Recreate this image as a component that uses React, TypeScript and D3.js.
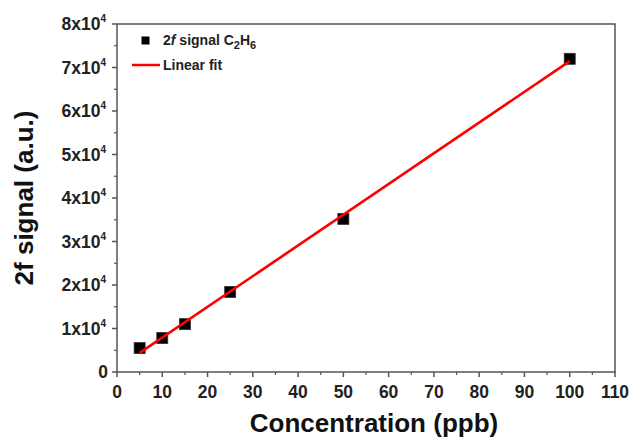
import React from "react";
import { scaleLinear, range } from "d3";

const width = 632;
const height = 437;
const margin = { top: 24, right: 17, bottom: 65, left: 117 };

// measured points (ppb, 2f signal)
const concentrations = [5, 10, 15, 25, 50, 100];
const signals = [5500, 7800, 11000, 18400, 35200, 72000];

// linear fit
const fitSlope = 706;
const fitIntercept = 856;
const fitRange = [5, 100];

const xTicks = [0, 10, 20, 30, 40, 50, 60, 70, 80, 90, 100, 110];
const yTicks = [0, 1, 2, 3, 4, 5, 6, 7, 8];

const axisColor = "#555";
const font = "Arial, 'Liberation Sans', sans-serif";

const x = scaleLinear()
  .domain([0, 110])
  .range([margin.left, width - margin.right]);
const y = scaleLinear()
  .domain([0, 80000])
  .range([height - margin.bottom, margin.top]);

export default function App() {
  const x0 = x.range()[0];
  const x1 = x.range()[1];
  const y0 = y.range()[0];
  const y1 = y.range()[1];
  const minorX = range(5, 110, 10);
  const minorY = range(5000, 80000, 10000);
  const markerSize = 11;

  return (
    <svg
      width={width}
      height={height}
      style={{ position: "absolute", left: 0, top: 0, background: "#fff" }}
      fontFamily={font}
    >
      {/* frame */}
      <rect
        x={x0}
        y={y1}
        width={x1 - x0}
        height={y0 - y1}
        fill="none"
        stroke={axisColor}
        strokeWidth={1.5}
      />

      {/* x ticks */}
      {xTicks.map((t) => (
        <g key={`xt${t}`}>
          <line x1={x(t)} x2={x(t)} y1={y0} y2={y0 + 5} stroke={axisColor} strokeWidth={1.5} />
          <text
            x={x(t)}
            y={y0 + 26}
            textAnchor="middle"
            fontSize={17.5}
            fontWeight="bold"
            fill="#222"
          >
            {t}
          </text>
        </g>
      ))}
      {minorX.map((t) => (
        <line key={`xm${t}`} x1={x(t)} x2={x(t)} y1={y0} y2={y0 + 3} stroke={axisColor} strokeWidth={1.2} />
      ))}

      {/* y ticks */}
      {yTicks.map((t) => (
        <g key={`yt${t}`}>
          <line x1={x0 - 5} x2={x0} y1={y(t * 10000)} y2={y(t * 10000)} stroke={axisColor} strokeWidth={1.5} />
          <text
            x={t === 0 ? x0 - 9 : x0 - 11}
            y={y(t * 10000) + 6}
            textAnchor="end"
            fontSize={17.5}
            fontWeight="bold"
            fill="#222"
          >
            {t === 0 ? (
              "0"
            ) : (
              <>
                {`${t}x10`}
                <tspan fontSize={10} dy={-8}>
                  4
                </tspan>
              </>
            )}
          </text>
        </g>
      ))}
      {minorY.map((t) => (
        <line key={`ym${t}`} x1={x0 - 3} x2={x0} y1={y(t)} y2={y(t)} stroke={axisColor} strokeWidth={1.2} />
      ))}

      {/* data points */}
      {concentrations.map((c, i) => (
        <rect
          key={`pt${i}`}
          x={x(c) - markerSize / 2}
          y={y(signals[i]) - markerSize / 2}
          width={markerSize}
          height={markerSize}
          fill="#000"
          stroke="#333"
          strokeWidth={0.8}
        />
      ))}

      {/* linear fit */}
      <line
        x1={x(fitRange[0])}
        y1={y(fitSlope * fitRange[0] + fitIntercept)}
        x2={x(fitRange[1])}
        y2={y(fitSlope * fitRange[1] + fitIntercept)}
        stroke="#ff0000"
        strokeWidth={2.6}
      />

      {/* legend */}
      <rect x={141.5} y={36.5} width={8} height={8} fill="#000" />
      <text x={163} y={45} fontSize={14} fontWeight="bold" fill="#222">
        2<tspan fontStyle="italic">f</tspan> signal C
        <tspan fontSize={11} dy={4}>2</tspan>
        <tspan dy={-4}>H</tspan>
        <tspan fontSize={11} dy={4}>6</tspan>
      </text>
      <line x1={132} x2={160} y1={65} y2={65} stroke="#ff0000" strokeWidth={2.5} />
      <text x={163} y={70} fontSize={14} fontWeight="bold" fill="#222">
        Linear fit
      </text>

      {/* axis titles */}
      <text
        x={(x0 + x1) / 2 + 8}
        y={432}
        textAnchor="middle"
        fontSize={26}
        fontWeight="bold"
        fill="#111"
      >
        Concentration (ppb)
      </text>
      <text
        transform={`translate(33,${(y0 + y1) / 2}) rotate(-90)`}
        textAnchor="middle"
        fontSize={26}
        fontWeight="bold"
        fill="#111"
      >
        2f signal (a.u.)
      </text>
    </svg>
  );
}
